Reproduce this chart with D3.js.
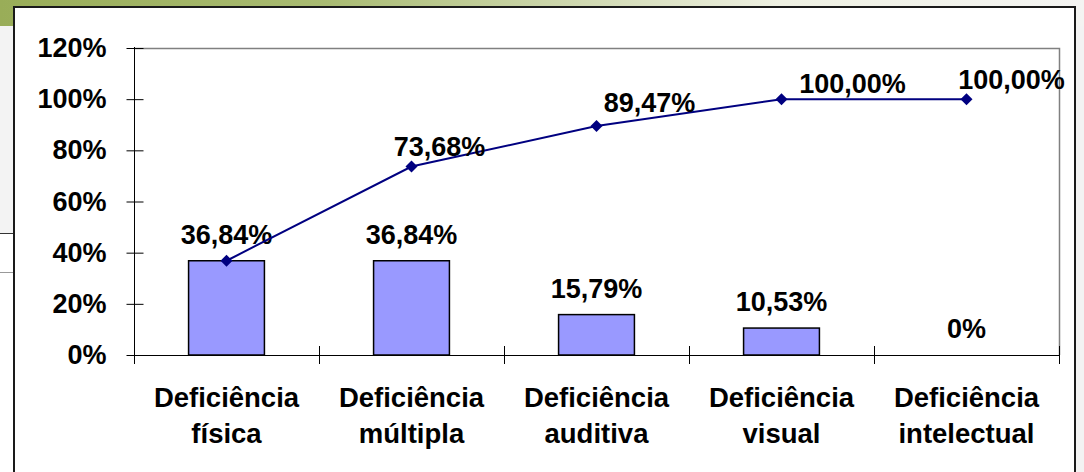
<!DOCTYPE html>
<html lang="pt">
<head>
<meta charset="UTF-8">
<title>Deficiências - Pareto</title>
<script src="https://d3js.org/d3.v7.min.js"></script>
<style>
  body { margin: 0; background: #f2f2f2; }
  svg { display: block; font-family: Arial, "Liberation Sans", sans-serif; font-weight: bold; }
</style>
</head>
<body>
<div id="chart"></div>
<script>
// data
var categories = ["Deficiência física", "Deficiência múltipla", "Deficiência auditiva", "Deficiência visual", "Deficiência intelectual"];
var barValues = [36.84, 36.84, 15.79, 10.53, 0];
var cumulative = [36.84, 73.68, 89.47, 100.00, 100.00];
var yTicks = [0, 20, 40, 60, 80, 100, 120];

// hand placed offsets of the line labels (as in the original sheet)
var lineLabelOffsets = [null, [28, -11], [53, -14], [71, -6], [45, -10]];

var w = 1084, h = 472;
var m = {top: 48, left: 134, bottom: 117, right: 25};

var svg = d3.select('#chart').append('svg')
    .attr('width', w)
    .attr('height', h);

// slide background
var defs = svg.append('defs');
var grad = defs.append('linearGradient').attr('id', 'topband');
grad.append('stop').attr('offset', '0%').attr('stop-color', '#99ad58');
grad.append('stop').attr('offset', '30%').attr('stop-color', '#a9bb72');
grad.append('stop').attr('offset', '72%').attr('stop-color', '#eef0e2');
grad.append('stop').attr('offset', '100%').attr('stop-color', '#f4f4f2');

svg.append('rect').attr('width', w).attr('height', h).attr('fill', '#f3f3f3');
svg.append('rect').attr('width', w).attr('height', 26).attr('fill', 'url(#topband)');
svg.append('rect').attr('x', 0).attr('y', 233).attr('width', 14).attr('height', h - 233).attr('fill', '#ffffff');
svg.append('line').attr('x1', 0).attr('x2', 14).attr('y1', 233.5).attr('y2', 233.5).attr('stroke', '#333');
svg.append('line').attr('x1', 0).attr('x2', 14).attr('y1', 272.5).attr('y2', 272.5).attr('stroke', '#999');

// chart frame
svg.append('rect')
    .attr('x', 14).attr('y', 7)
    .attr('width', 1061).attr('height', h)
    .attr('fill', '#ffffff')
    .attr('stroke', '#1a1a1a')
    .attr('stroke-width', 2);

var x = d3.scaleBand()
    .domain(categories)
    .range([m.left, w - m.right])
    .padding(0);

var y = d3.scaleLinear()
    .domain([0, 120])
    .range([h - m.bottom, m.top]);

var x0 = m.left, x1 = w - m.right;
var yBottom = y(0), yTop = y(120);

// plot area border (top and right in gray)
svg.append('path')
    .attr('d', 'M' + x0 + ',' + (yTop + 0.5) + 'H' + (x1 + 0.5) + 'V' + yBottom)
    .attr('fill', 'none')
    .attr('stroke', '#808080')
    .attr('stroke-width', 1.5);

// y axis
var yAxis = svg.append('g')
    .attr('transform', 'translate(' + (x0 + 0.5) + ',0)')
    .call(d3.axisLeft(y).tickValues(yTicks).tickSize(8).tickPadding(20).tickFormat(function(d){ return d + '%'; }));
yAxis.select('.domain').attr('d', 'M0,' + (yTop - 1) + 'V' + (yBottom + 9)).attr('stroke', '#000');
yAxis.selectAll('.tick line').attr('x1', 9).attr('stroke', '#000');
yAxis.selectAll('.tick text')
    .attr('font-size', '27px')
    .attr('font-family', 'Arial, "Liberation Sans", sans-serif')
    .attr('font-weight', 'bold')
    .attr('fill', '#000');

// x axis line + cross ticks on the category borders
svg.append('line')
    .attr('x1', x0).attr('x2', x1 + 1)
    .attr('y1', yBottom + 0.5).attr('y2', yBottom + 0.5)
    .attr('stroke', '#000').attr('stroke-width', 1.2);

var borders = categories.map(function(c){ return x(c); }).slice(1).concat([x1]);
svg.selectAll('.xtick')
    .data(borders)
    .enter().append('line')
    .attr('class', 'xtick')
    .attr('x1', function(d){ return d + 0.5; })
    .attr('x2', function(d){ return d + 0.5; })
    .attr('y1', yBottom - 9)
    .attr('y2', yBottom + 9)
    .attr('stroke', '#000');

// category labels (two lines)
var catText = svg.selectAll('.cat')
    .data(categories)
    .enter().append('text')
    .attr('class', 'cat')
    .attr('text-anchor', 'middle')
    .attr('font-size', '27.5px')
    .attr('fill', '#000');
catText.append('tspan')
    .attr('x', function(d){ return x(d) + x.bandwidth() / 2; })
    .attr('y', 407)
    .text(function(d){ return d.split(' ')[0]; });
catText.append('tspan')
    .attr('x', function(d){ return x(d) + x.bandwidth() / 2; })
    .attr('y', 443)
    .text(function(d){ return d.split(' ').slice(1).join(' '); });

// bars
var barW = x.bandwidth() * 0.41;
svg.selectAll('.bar')
    .data(barValues)
    .enter().append('rect')
    .attr('class', 'bar')
    .attr('x', function(d, i){ return x(categories[i]) + (x.bandwidth() - barW) / 2; })
    .attr('y', function(d){ return y(d); })
    .attr('width', barW)
    .attr('height', function(d){ return yBottom - y(d); })
    .attr('fill', '#9999ff')
    .attr('stroke', '#000')
    .attr('stroke-width', 1.5);

function fmt(v, fixed) {
    if (v === 0 && !fixed) return '0%';
    return v.toFixed(2).replace('.', ',') + '%';
}

svg.selectAll('.barlabel')
    .data(barValues)
    .enter().append('text')
    .attr('class', 'barlabel')
    .attr('x', function(d, i){ return x(categories[i]) + x.bandwidth() / 2; })
    .attr('y', function(d){ return y(d) - 17; })
    .attr('text-anchor', 'middle')
    .attr('font-size', '27px')
    .attr('fill', '#000')
    .text(function(d){ return fmt(d, false); });

// cumulative line
var cx = function(d, i){ return x(categories[i]) + x.bandwidth() / 2; };
var line = d3.line()
    .x(cx)
    .y(function(d){ return y(d); });

svg.append('path')
    .datum(cumulative)
    .attr('d', line)
    .attr('fill', 'none')
    .attr('stroke', '#000080')
    .attr('stroke-width', 2);

svg.selectAll('.marker')
    .data(cumulative)
    .enter().append('path')
    .attr('class', 'marker')
    .attr('d', d3.symbol(d3.symbolSquare, 72))
    .attr('transform', function(d, i){ return 'translate(' + cx(d, i) + ',' + y(d) + ') rotate(45)'; })
    .attr('fill', '#000080');

// first point label coincides with the bar label, so it is left out
var lineLabels = cumulative
    .map(function(v, i){ return {v: v, i: i}; })
    .filter(function(d){ return lineLabelOffsets[d.i] !== null; });

svg.selectAll('.linelabel')
    .data(lineLabels)
    .enter().append('text')
    .attr('class', 'linelabel')
    .attr('x', function(d){ return cx(d.v, d.i) + lineLabelOffsets[d.i][0]; })
    .attr('y', function(d){ return y(d.v) + lineLabelOffsets[d.i][1]; })
    .attr('text-anchor', 'middle')
    .attr('font-size', '27px')
    .attr('fill', '#000')
    .text(function(d){ return fmt(d.v, true); });
</script>
</body>
</html>
